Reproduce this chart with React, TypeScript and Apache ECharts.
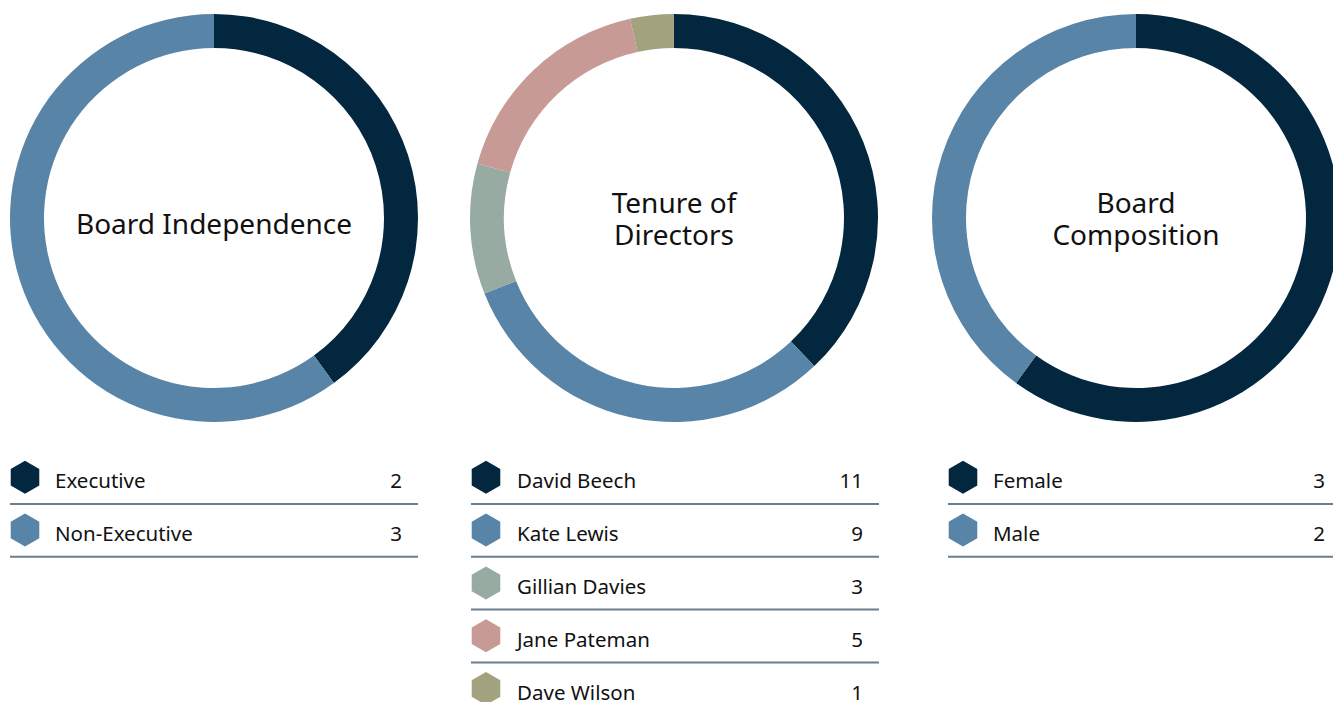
import React, { useEffect, useRef } from "react";
import * as echarts from "echarts";

const independenceNames = ["Executive", "Non-Executive"];
const independenceValues = [2, 3];
const tenureNames = ["David Beech", "Kate Lewis", "Gillian Davies", "Jane Pateman", "Dave Wilson"];
const tenureValues = [11, 9, 3, 5, 1];
const compositionNames = ["Female", "Male"];
const compositionValues = [3, 2];

const independenceColors = ["#03273f", "#5884a7"];
const tenureColors = ["#03273f", "#5884a7", "#97aba2", "#c89a95", "#a3a27e"];
const compositionColors = ["#03273f", "#5884a7"];

const titles = [["Board Independence"], ["Tenure of", "Directors"], ["Board", "Composition"]];

const FONT = "'Noto Sans', sans-serif";

export default function App() {
  const ref = useRef<HTMLDivElement>(null);
  useEffect(() => {
    if (!ref.current) return;
    const chart = echarts.init(ref.current, undefined, { renderer: "svg" });

    const cols = [
      { names: independenceNames, values: independenceValues, colors: independenceColors, cx: 214, hexX: 25, textX: 55, numX: 402, lineX1: 10, lineX2: 418 },
      { names: tenureNames, values: tenureValues, colors: tenureColors, cx: 674, hexX: 486, textX: 517, numX: 863, lineX1: 471, lineX2: 879 },
      { names: compositionNames, values: compositionValues, colors: compositionColors, cx: 1136, hexX: 963, textX: 993, numX: 1325, lineX1: 948, lineX2: 1340 },
    ];
    const cy = 218;

    const series: any[] = cols.map((c) => ({
      type: "pie",
      center: [c.cx, cy],
      radius: [170, 204],
      startAngle: 90,
      clockwise: true,
      silent: true,
      label: { show: false },
      labelLine: { show: false },
      itemStyle: { borderWidth: 0 },
      data: c.names.map((n, i) => ({ name: n, value: c.values[i], itemStyle: { color: c.colors[i] } })),
    }));

    const graphics: any[] = [];
    cols.forEach((c, ci) => {
      const t = titles[ci];
      graphics.push({
        type: "text",
        x: c.cx,
        y: t.length === 1 ? 223 : 218,
        style: {
          text: t.join("\n"),
          fill: "#111111",
          font: `400 28px ${FONT}`,
          lineHeight: 32,
          textAlign: "center",
          textVerticalAlign: "middle",
        },
      });
      c.names.forEach((n, i) => {
        const rowY = 480.3 + i * 52.8;
        const hy = rowY - 3;
        const r = 16.5;
        const pts: number[][] = [];
        for (let k = 0; k < 6; k++) {
          const a = (Math.PI / 3) * k - Math.PI / 2;
          pts.push([c.hexX + r * Math.cos(a), hy + r * Math.sin(a)]);
        }
        graphics.push({ type: "polygon", shape: { points: pts }, style: { fill: c.colors[i] } });
        graphics.push({
          type: "text",
          x: c.textX,
          y: rowY,
          style: { text: n, fill: "#111111", font: `400 20.5px ${FONT}`, textAlign: "left", textVerticalAlign: "middle" },
        });
        graphics.push({
          type: "text",
          x: c.numX,
          y: rowY,
          style: { text: String(c.values[i]), fill: "#111111", font: `400 20.5px ${FONT}`, textAlign: "right", textVerticalAlign: "middle" },
        });
        const ly = rowY + 23.7;
        graphics.push({
          type: "line",
          shape: { x1: c.lineX1, y1: ly, x2: c.lineX2, y2: ly },
          style: { stroke: "#6b7f8e", lineWidth: 2 },
        });
      });
    });

    chart.setOption({
      animation: false,
      backgroundColor: "#ffffff",
      series,
      graphic: graphics,
    });
    return () => chart.dispose();
  }, []);
  return <div ref={ref} style={{ position: "absolute", left: 0, top: 0, width: 1333, height: 702 }} />;
}
